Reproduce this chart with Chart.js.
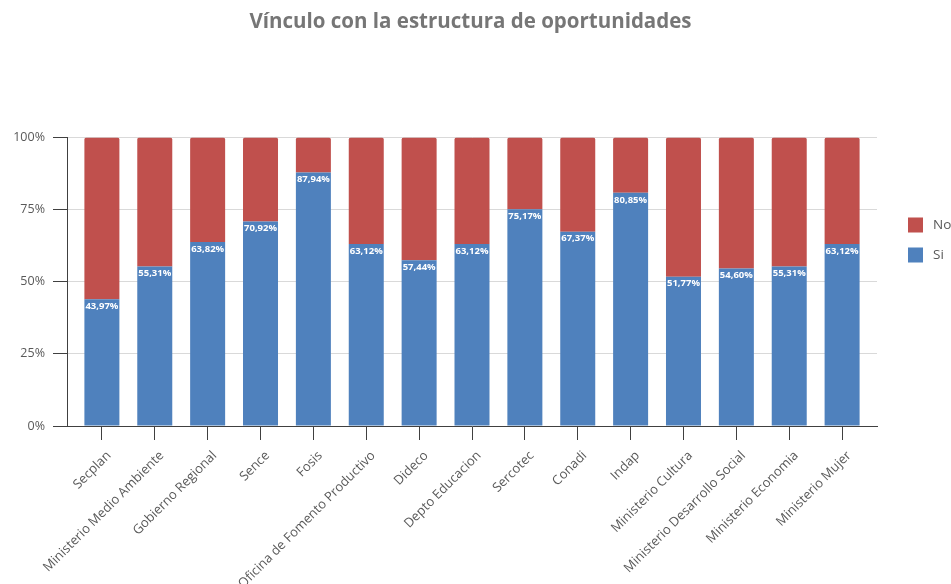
<!DOCTYPE html>
<html>
<head>
<meta charset="utf-8">
<script src="https://cdn.jsdelivr.net/npm/chart.js@4"></script>
<style>
html,body{margin:0;padding:0;background:#fff;}
#wrap{width:951px;height:584px;}
</style>
</head>
<body>
<div id="wrap"><canvas id="c" width="951" height="584"></canvas></div>
<script>
const categories = ["Secplan","Ministerio Medio Ambiente","Gobierno Regional","Sence","Fosis","Oficina de Fomento Productivo","Dideco","Depto Educacion","Sercotec","Conadi","Indap","Ministerio Cultura","Ministerio Desarrollo Social","Ministerio Economia","Ministerio Mujer"];
const siValues = [43.97,55.31,63.82,70.92,87.94,63.12,57.44,63.12,75.17,67.37,80.85,51.77,54.60,55.31,63.12];
const noValues = [56.03,44.69,36.18,29.08,12.06,36.88,42.56,36.88,24.83,32.63,19.15,48.23,45.40,44.69,36.88];
const yTicks = [0,25,50,75,100];
const titleText = "Vínculo con la estructura de oportunidades";

const FONT = '"Open Sans", "DejaVu Sans", sans-serif';
const TXT = '#595959';

const siLabelPlugin = {
  id: 'siLabels',
  afterDatasetsDraw(chart) {
    const ctx = chart.ctx;
    const meta = chart.getDatasetMeta(0);
    ctx.save();
    ctx.font = 'bold 9.5px ' + FONT;
    ctx.fillStyle = '#ffffff';
    ctx.textAlign = 'center';
    ctx.textBaseline = 'middle';
    meta.data.forEach((bar, i) => {
      const v = chart.data.datasets[0].data[i];
      ctx.fillText(v.toFixed(2).replace('.', ',') + '%', bar.x, bar.y + 7);
    });
    ctx.restore();
  }
};

const legendPlugin = {
  id: 'customLegend',
  afterDraw(chart) {
    const ctx = chart.ctx;
    const ds = chart.data.datasets.slice().reverse();
    ctx.save();
    ctx.font = '13.5px ' + FONT;
    ctx.textBaseline = 'middle';
    ctx.textAlign = 'left';
    ds.forEach((d, i) => {
      const cy = 225 + i * 30;
      ctx.fillStyle = d.backgroundColor;
      ctx.fillRect(908, cy - 7.5, 15, 15);
      ctx.fillStyle = TXT;
      ctx.fillText(d.label, 933, cy);
    });
    ctx.restore();
  }
};

new Chart(document.getElementById('c'), {
  type: 'bar',
  data: {
    labels: categories,
    datasets: [
      { label: 'Si', data: siValues, backgroundColor: '#4F81BD', barPercentage: 0.662, categoryPercentage: 1 },
      { label: 'No', data: noValues, backgroundColor: '#C0504D', barPercentage: 0.662, categoryPercentage: 1,
        borderRadius: {topLeft: 2, topRight: 2, bottomLeft: 0, bottomRight: 0}, borderSkipped: 'bottom' }
    ]
  },
  options: {
    responsive: false,
    animation: false,
    devicePixelRatio: 1,
    layout: { padding: { top: 0, right: 10, bottom: 0, left: 0 } },
    plugins: {
      legend: { display: false },
      tooltip: { enabled: false },
      title: {
        display: true,
        text: titleText,
        color: '#767676',
        font: { family: FONT, size: 20.5, weight: 'bold' },
        padding: { top: 10, bottom: 103 }
      }
    },
    scales: {
      x: {
        stacked: true,
        grid: { display: true, offset: false, drawOnChartArea: false, tickLength: 14, tickColor: '#404040', color: '#404040' },
        border: { display: true, color: '#404040', width: 1 },
        ticks: { color: TXT, font: { family: FONT, size: 13 }, minRotation: 45, maxRotation: 45, autoSkip: false, padding: 8, labelOffset: 7 },
        afterBuildTicks(axis) { axis._startValue -= 0.16; axis._valueRange += 0.32; },
        afterFit(axis) { axis.height = 158; }
      },
      y: {
        stacked: true,
        min: 0, max: 100,
        afterBuildTicks(axis) { axis.ticks = yTicks.map(v => ({ value: v })); },
        grid: { color: '#d9d9d9', tickLength: 14, tickColor: '#404040' },
        border: { display: true, color: '#404040', width: 1 },
        ticks: { color: TXT, font: { family: FONT, size: 12.5 }, padding: 8, callback: v => v + '%' },
        afterFit(axis) { axis.width = 67; }
      },
      yRight: {
        position: 'right',
        display: true,
        grid: { display: false, drawOnChartArea: false },
        border: { display: false },
        ticks: { display: false },
        afterFit(axis) { axis.width = 64; }
      }
    }
  },
  plugins: [siLabelPlugin, legendPlugin]
});
</script>
</body>
</html>
